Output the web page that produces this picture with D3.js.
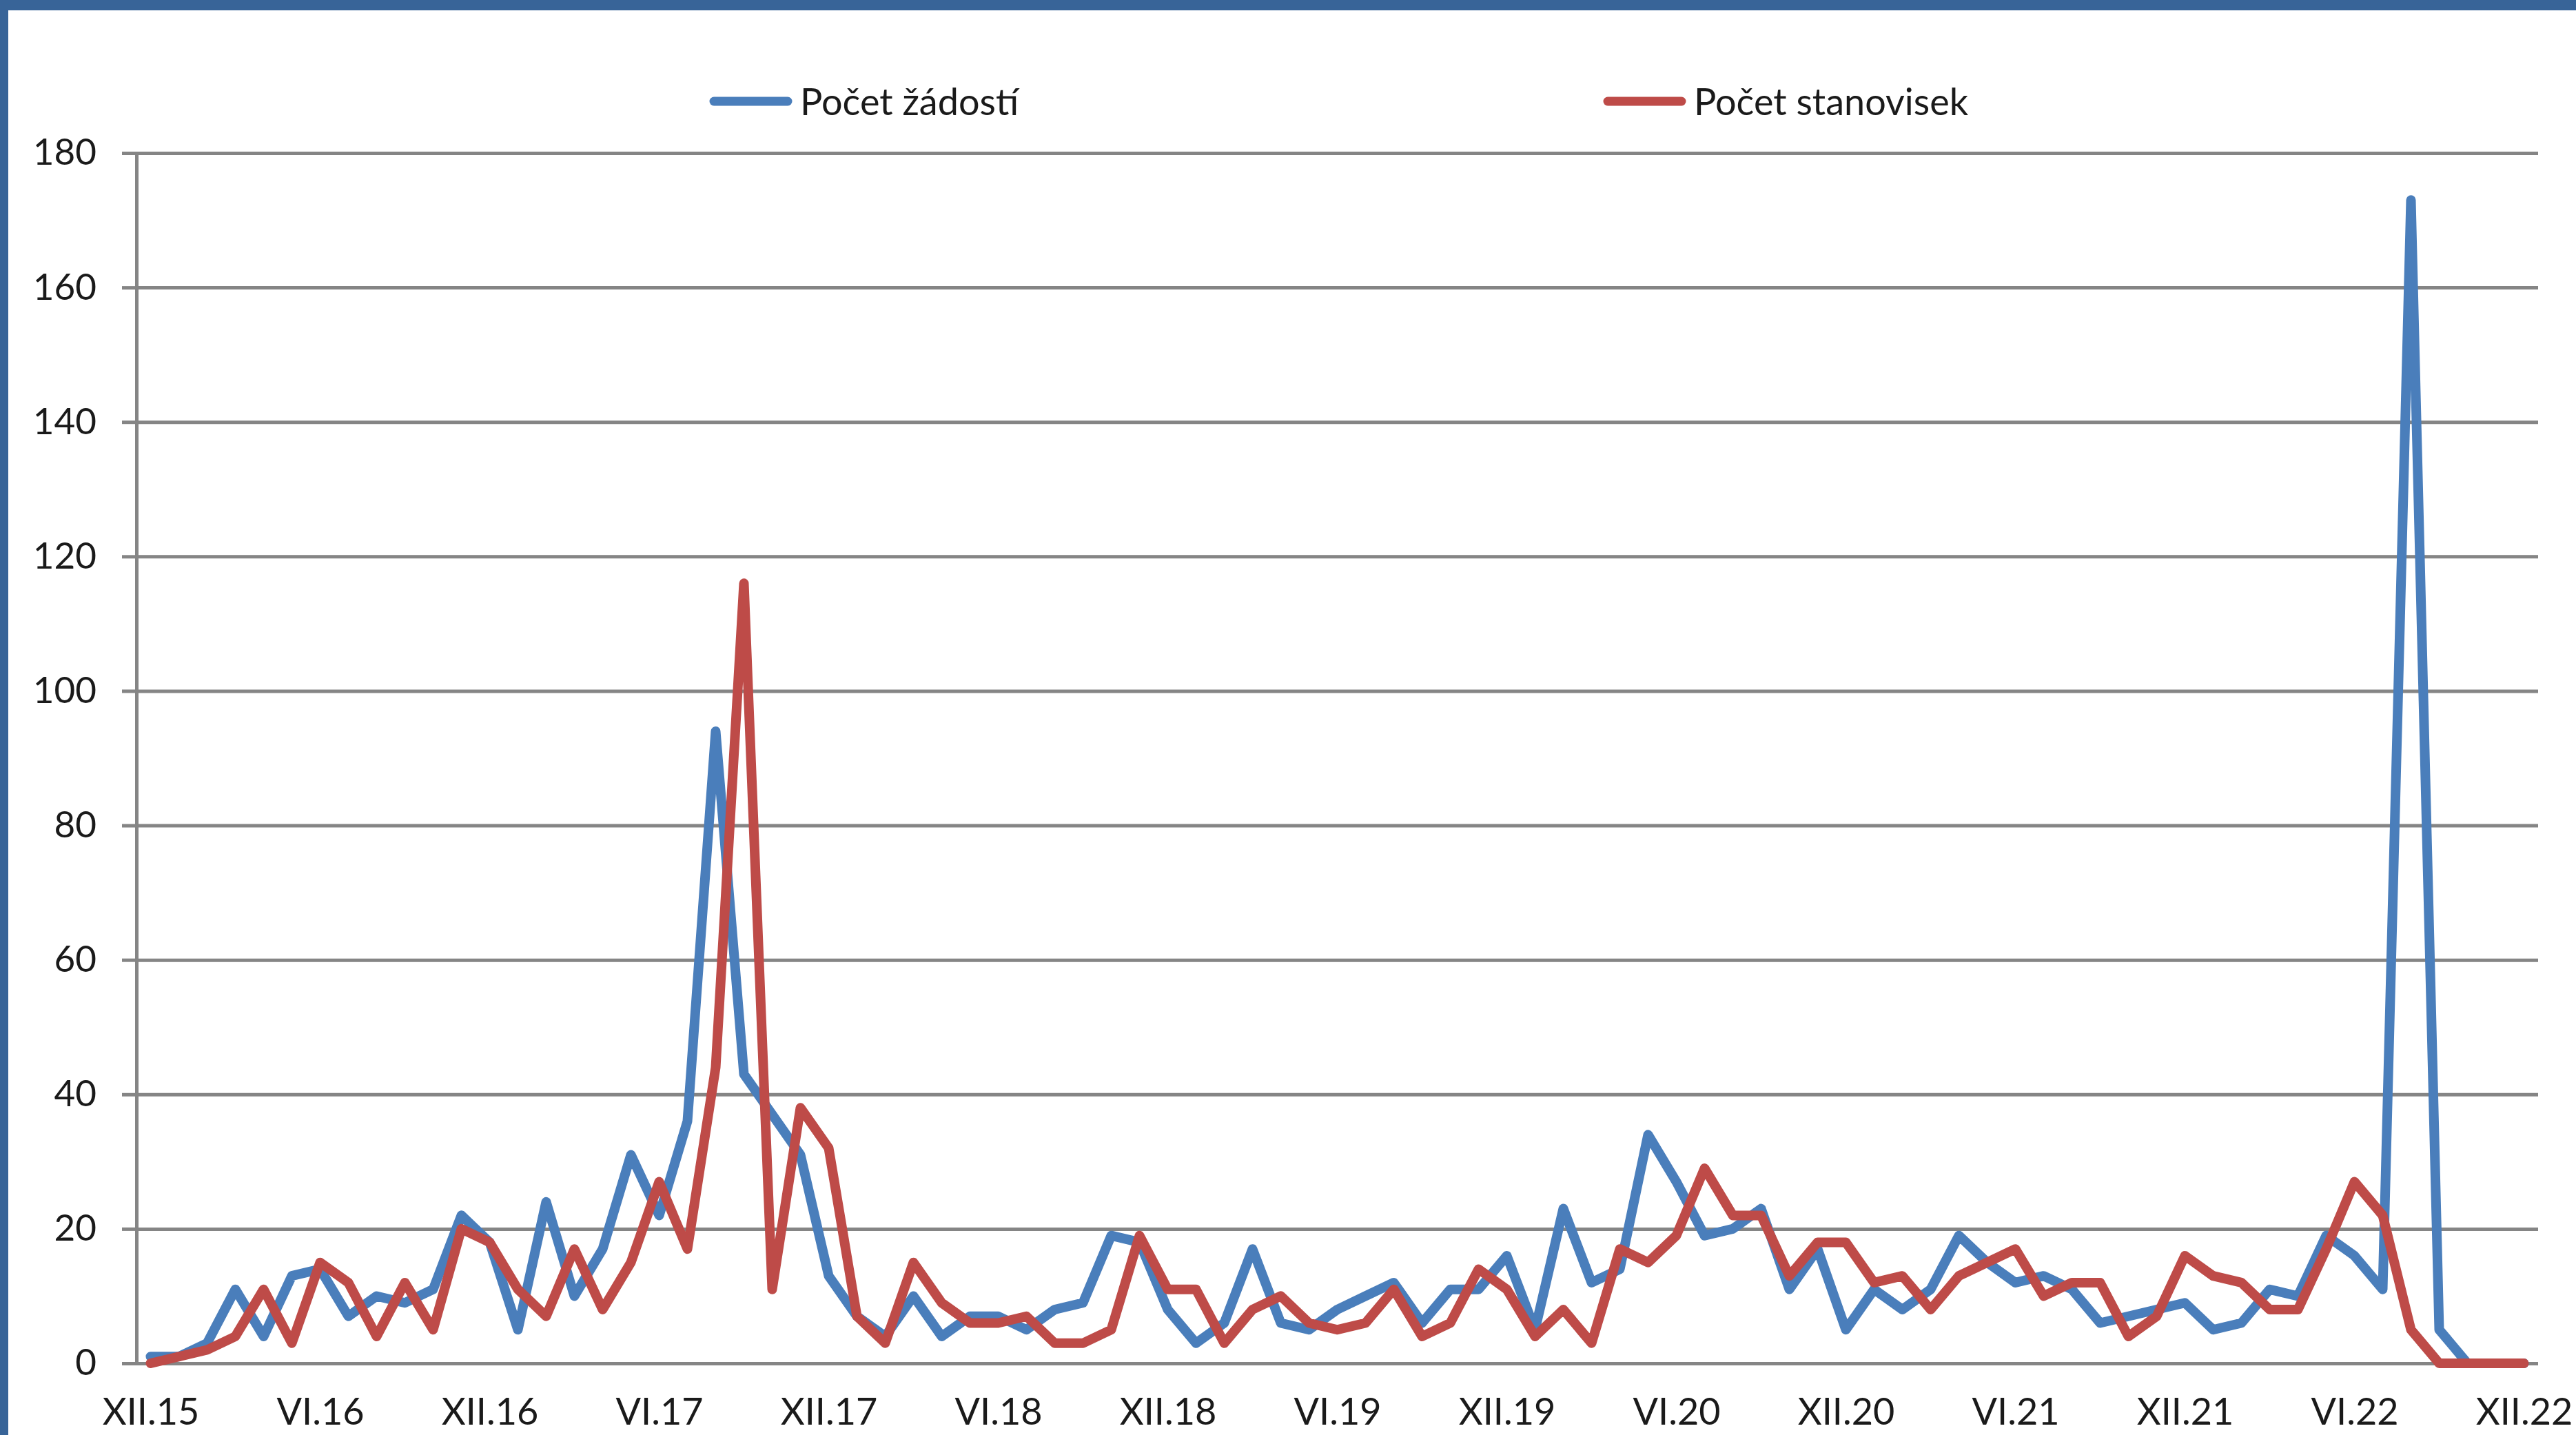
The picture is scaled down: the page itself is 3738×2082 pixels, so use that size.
<!DOCTYPE html>
<html>
<head>
<meta charset="utf-8">
<script src="https://cdn.jsdelivr.net/npm/d3@7"></script>
<style>
  html, body { margin: 0; padding: 0; background: #ffffff; }
  svg { display: block; }
</style>
</head>
<body>
<script>
// ---- data ----
const months = [
  "XII.15",
  "I.16","II.16","III.16","IV.16","V.16","VI.16","VII.16","VIII.16","IX.16","X.16","XI.16","XII.16",
  "I.17","II.17","III.17","IV.17","V.17","VI.17","VII.17","VIII.17","IX.17","X.17","XI.17","XII.17",
  "I.18","II.18","III.18","IV.18","V.18","VI.18","VII.18","VIII.18","IX.18","X.18","XI.18","XII.18",
  "I.19","II.19","III.19","IV.19","V.19","VI.19","VII.19","VIII.19","IX.19","X.19","XI.19","XII.19",
  "I.20","II.20","III.20","IV.20","V.20","VI.20","VII.20","VIII.20","IX.20","X.20","XI.20","XII.20",
  "I.21","II.21","III.21","IV.21","V.21","VI.21","VII.21","VIII.21","IX.21","X.21","XI.21","XII.21",
  "I.22","II.22","III.22","IV.22","V.22","VI.22","VII.22","VIII.22","IX.22","X.22","XI.22","XII.22"
];
const tickLabels = ["XII.15","VI.16","XII.16","VI.17","XII.17","VI.18","XII.18","VI.19",
                    "XII.19","VI.20","XII.20","VI.21","XII.21","VI.22","XII.22"];
const yTicks = [0, 20, 40, 60, 80, 100, 120, 140, 160, 180];

const seriesNames = ["Počet žádostí", "Počet stanovisek"];
const zadosti = [
  1, 1, 3, 11, 4, 13, 14, 7, 10, 9, 11, 22, 18,
  5, 24, 10, 17, 31, 22, 36, 94, 43, 37, 31, 13,
  7, 4, 10, 4, 7, 7, 5, 8, 9, 19, 18, 8,
  3, 6, 17, 6, 5, 8, 10, 12, 6, 11, 11, 16,
  5, 23, 12, 14, 34, 27, 19, 20, 23, 11, 17, 5,
  11, 8, 11, 19, 15, 12, 13, 11, 6, 7, 8, 9,
  5, 6, 11, 10, 19, 16, 11, 173, 5, 0, 0, 0
];
const stanoviska = [
  0, 1, 2, 4, 11, 3, 15, 12, 4, 12, 5, 20, 18,
  11, 7, 17, 8, 15, 27, 17, 44, 116, 11, 38, 32,
  7, 3, 15, 9, 6, 6, 7, 3, 3, 5, 19, 11,
  11, 3, 8, 10, 6, 5, 6, 11, 4, 6, 14, 11,
  4, 8, 3, 17, 15, 19, 29, 22, 22, 13, 18, 18,
  12, 13, 8, 13, 15, 17, 10, 12, 12, 4, 7, 16,
  13, 12, 8, 8, 17, 27, 22, 5, 0, 0, 0, 0
];
const seriesColors = ["#4a7ebb", "#be4b48"];

// ---- layout ----
const W = 3738, H = 2082;
const plotLeft = 198, plotRight = 3683, plotTop = 222, plotBottom = 1978;
const font = "Lato, 'Open Sans', 'Noto Sans', sans-serif";

const svg = d3.select("body").append("svg")
  .attr("width", W).attr("height", H)
  .attr("viewBox", `0 0 ${W} ${H}`);

svg.append("rect").attr("width", W).attr("height", H).attr("fill", "#ffffff");

// frame (blue bars at top and left)
svg.append("rect").attr("x", 0).attr("y", 0).attr("width", W).attr("height", 15).attr("fill", "#386498");
svg.append("rect").attr("x", 0).attr("y", 0).attr("width", 12).attr("height", H).attr("fill", "#386498");

const x = d3.scalePoint()
  .domain(d3.range(months.length))
  .range([plotLeft, plotRight])
  .padding(0.5);

const y = d3.scaleLinear().domain([0, 180]).range([plotBottom, plotTop]);

// gridlines
const grid = svg.append("g").attr("transform", `translate(${plotLeft},0)`)
  .call(d3.axisLeft(y).tickValues(yTicks).tickSize(-(plotRight - plotLeft)).tickFormat(""));
grid.select(".domain").remove();
grid.selectAll("line").attr("stroke", "#858585").attr("stroke-width", 5);

// y axis with tick marks and labels
const yAxis = svg.append("g").attr("transform", `translate(${plotLeft},0)`)
  .call(d3.axisLeft(y).tickValues(yTicks).tickSize(21).tickSizeOuter(0).tickPadding(37));
yAxis.select(".domain").attr("stroke", "#858585").attr("stroke-width", 5);
yAxis.selectAll(".tick line").attr("stroke", "#858585").attr("stroke-width", 5);
yAxis.selectAll("text")
  .attr("font-family", font).attr("font-size", 53).attr("fill", "#1a1a1a");

// x axis labels
const tickIdx = tickLabels.map(l => months.indexOf(l));
const xAxis = svg.append("g").attr("transform", `translate(0,${plotBottom})`)
  .call(d3.axisBottom(x).tickValues(tickIdx).tickFormat(i => months[i]).tickSize(0));
xAxis.select(".domain").remove();
xAxis.selectAll("text")
  .attr("y", 2067 - plotBottom).attr("dy", null)
  .attr("font-family", font).attr("font-size", 54).attr("fill", "#1a1a1a");

// lines
const line = d3.line().x((d, i) => x(i)).y(d => y(d));
[zadosti, stanoviska].forEach((vals, k) => {
  svg.append("path")
    .datum(vals)
    .attr("d", line)
    .attr("fill", "none")
    .attr("stroke", seriesColors[k])
    .attr("stroke-width", 14)
    .attr("stroke-linejoin", "round")
    .attr("stroke-linecap", "round");
});

// legend
const legendItems = [
  { name: seriesNames[0], color: seriesColors[0], x1: 1036, x2: 1143, tx: 1161 },
  { name: seriesNames[1], color: seriesColors[1], x1: 2333, x2: 2440, tx: 2458 }
];
const lg = svg.append("g");
legendItems.forEach(it => {
  lg.append("line")
    .attr("x1", it.x1).attr("x2", it.x2).attr("y1", 147).attr("y2", 147)
    .attr("stroke", it.color).attr("stroke-width", 13).attr("stroke-linecap", "round");
  lg.append("text")
    .attr("x", it.tx).attr("y", 167)
    .attr("font-family", font).attr("font-size", 54).attr("fill", "#1a1a1a")
    .text(it.name);
});
</script>
</body>
</html>
